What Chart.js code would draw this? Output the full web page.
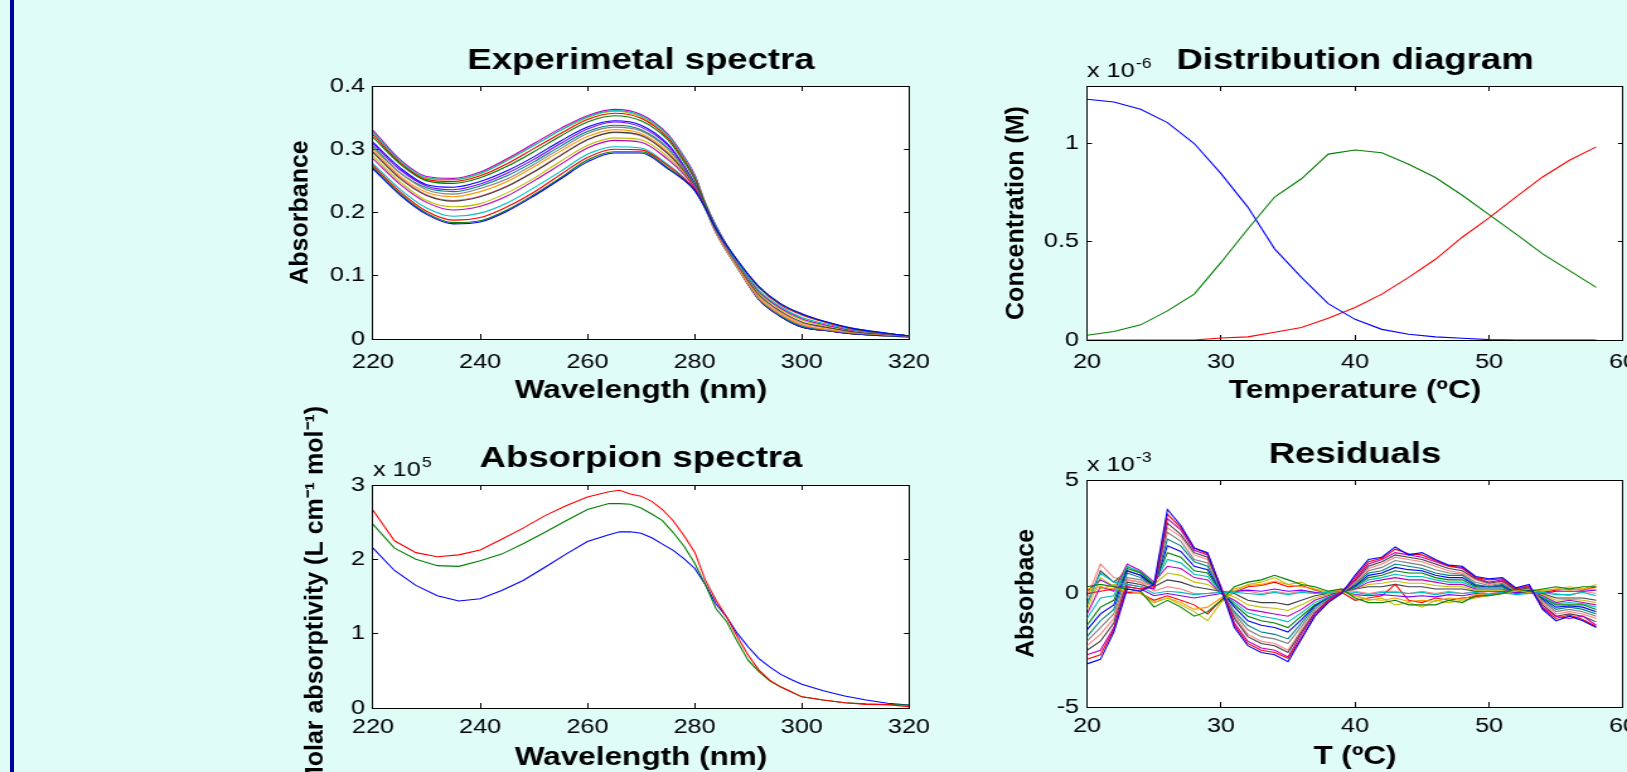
<!DOCTYPE html>
<html>
<head>
<meta charset="utf-8">
<script src="https://cdn.jsdelivr.net/npm/chart.js@4.4.1/dist/chart.umd.min.js"></script>
<style>
  html, body { margin: 0; padding: 0; }
  body { width: 1627px; height: 772px; background: #dffcf7; position: relative; overflow: hidden; }
  #edge { position: absolute; left: 10px; top: 0; width: 4px; height: 772px; background: #0000a0; }
  canvas { position: absolute; left: 0; top: 0; }
</style>
</head>
<body>
<div id="edge"></div>
<canvas id="expChart"></canvas>
<canvas id="distChart"></canvas>
<canvas id="absChart"></canvas>
<canvas id="resChart"></canvas>
<script>
// ---- Experimental spectra (absorbance), one array per temperature ----
const specWavelengths = [220,225,230,235,240,245,250,255,260,265,270,275,278,280,282,284,288,292,296,300,305,310,320];
const spec20 = [0.269,0.228,0.197,0.182,0.185,0.202,0.226,0.253,0.280,0.294,0.294,0.269,0.251,0.235,0.207,0.174,0.124,0.083,0.056,0.040,0.026,0.016,0.005];
const spec23 = [0.271,0.230,0.199,0.184,0.187,0.204,0.228,0.255,0.283,0.296,0.296,0.271,0.252,0.235,0.208,0.175,0.124,0.082,0.056,0.039,0.026,0.016,0.005];
const spec26 = [0.274,0.233,0.202,0.188,0.192,0.209,0.232,0.260,0.287,0.300,0.299,0.274,0.254,0.237,0.208,0.174,0.124,0.081,0.054,0.038,0.025,0.015,0.005];
const spec29 = [0.277,0.237,0.207,0.194,0.199,0.215,0.239,0.265,0.292,0.304,0.302,0.276,0.255,0.236,0.206,0.172,0.121,0.077,0.051,0.034,0.023,0.014,0.005];
const spec31 = [0.285,0.245,0.216,0.204,0.210,0.226,0.250,0.276,0.302,0.314,0.311,0.284,0.260,0.239,0.208,0.172,0.120,0.075,0.049,0.032,0.021,0.013,0.005];
const spec32 = [0.289,0.249,0.219,0.209,0.214,0.231,0.254,0.281,0.306,0.318,0.315,0.288,0.262,0.240,0.209,0.172,0.119,0.073,0.047,0.030,0.020,0.013,0.005];
const spec34 = [0.295,0.254,0.227,0.218,0.225,0.241,0.264,0.290,0.315,0.327,0.322,0.293,0.266,0.242,0.208,0.171,0.117,0.070,0.044,0.027,0.018,0.011,0.005];
const spec35 = [0.295,0.256,0.228,0.219,0.226,0.242,0.265,0.291,0.315,0.326,0.321,0.293,0.264,0.240,0.206,0.169,0.115,0.068,0.042,0.025,0.017,0.011,0.005];
const spec37 = [0.299,0.258,0.232,0.225,0.233,0.249,0.272,0.297,0.320,0.331,0.325,0.296,0.266,0.240,0.206,0.168,0.113,0.065,0.040,0.023,0.015,0.010,0.005];
const spec38 = [0.302,0.263,0.236,0.229,0.238,0.253,0.276,0.301,0.325,0.335,0.329,0.300,0.269,0.242,0.206,0.168,0.113,0.064,0.038,0.022,0.014,0.009,0.005];
const spec40 = [0.305,0.263,0.239,0.233,0.242,0.258,0.280,0.305,0.328,0.338,0.331,0.302,0.270,0.243,0.206,0.167,0.112,0.063,0.037,0.020,0.014,0.009,0.005];
const spec41 = [0.309,0.268,0.242,0.236,0.245,0.262,0.284,0.309,0.332,0.343,0.335,0.306,0.273,0.245,0.208,0.169,0.113,0.063,0.037,0.020,0.013,0.009,0.005];
const spec44 = [0.311,0.271,0.244,0.240,0.249,0.266,0.288,0.313,0.335,0.345,0.338,0.308,0.274,0.246,0.208,0.169,0.113,0.062,0.036,0.019,0.013,0.008,0.004];
const spec47 = [0.319,0.277,0.250,0.246,0.255,0.273,0.296,0.321,0.343,0.353,0.345,0.315,0.280,0.252,0.212,0.173,0.115,0.063,0.036,0.019,0.013,0.008,0.004];
const spec50 = [0.323,0.279,0.252,0.249,0.258,0.277,0.301,0.325,0.347,0.357,0.349,0.318,0.283,0.255,0.213,0.175,0.116,0.063,0.036,0.019,0.013,0.008,0.004];
const spec53 = [0.327,0.282,0.255,0.252,0.262,0.282,0.306,0.330,0.351,0.361,0.353,0.322,0.287,0.258,0.215,0.178,0.118,0.064,0.036,0.019,0.013,0.008,0.003];
const spec56 = [0.330,0.284,0.257,0.254,0.264,0.285,0.309,0.333,0.353,0.363,0.355,0.324,0.289,0.260,0.215,0.179,0.119,0.064,0.036,0.019,0.013,0.008,0.003];
const spec58 = [0.327,0.281,0.254,0.252,0.261,0.283,0.306,0.330,0.350,0.360,0.351,0.321,0.286,0.258,0.213,0.178,0.118,0.063,0.036,0.019,0.013,0.008,0.003];
const spectra = [spec20,spec23,spec26,spec29,spec31,spec32,spec34,spec35,spec37,spec38,spec40,spec41,spec44,spec47,spec50,spec53,spec56,spec58];

// ---- Distribution diagram (x 1e-6 M) ----
const temperatures = [20,22,24,26,28,30,32,34,36,38,40,42,44,46,48,50,52,54,56,58];
const concBlue  = [1.223,1.209,1.172,1.104,0.998,0.845,0.675,0.463,0.318,0.185,0.105,0.054,0.029,0.016,0.009,0.002,0,0,0,0];
const concGreen = [0.024,0.043,0.077,0.148,0.233,0.394,0.564,0.726,0.819,0.944,0.965,0.951,0.893,0.825,0.735,0.637,0.539,0.437,0.352,0.267];
const concRed   = [0,0,0,0,0,0.010,0.016,0.039,0.063,0.110,0.165,0.233,0.318,0.410,0.522,0.620,0.726,0.828,0.913,0.981];

// ---- Absorption spectra (x 1e5 L cm-1 mol-1) ----
const absWavelengths = [220,224,228,232,236,240,244,248,252,256,260,264,266,268,270,272,274,276,278,280,282,284,286,288,290,292,294,296,298,300,304,308,312,316,320];
const epsRed   = [2.66,2.25,2.09,2.035,2.06,2.125,2.27,2.42,2.585,2.72,2.84,2.91,2.93,2.88,2.85,2.78,2.67,2.52,2.32,2.10,1.72,1.45,1.22,0.955,0.71,0.51,0.375,0.285,0.218,0.15,0.107,0.071,0.049,0.045,0.018];
const epsGreen = [2.47,2.15,2.0,1.915,1.905,1.98,2.07,2.21,2.36,2.52,2.67,2.75,2.75,2.74,2.69,2.61,2.52,2.36,2.18,1.95,1.66,1.335,1.16,0.89,0.64,0.49,0.365,0.285,0.218,0.15,0.107,0.071,0.055,0.045,0.04];
const epsBlue  = [2.15,1.85,1.65,1.51,1.44,1.47,1.58,1.715,1.89,2.07,2.24,2.33,2.37,2.37,2.35,2.29,2.205,2.12,2.01,1.88,1.66,1.40,1.22,1.0,0.82,0.665,0.554,0.455,0.384,0.32,0.232,0.161,0.107,0.063,0.04];

// ---- Residuals (x 1e-3), temperatures 20..58 every 1 ºC ----
const resTemps = [20,21,22,23,24,25,26,27,28,29,30,31,32,33,34,35,36,37,38,39,40,41,42,43,44,45,46,47,48,49,50,51,52,53,54,55,56,57,58];
const resA1  = [-3.1,-2.9,-1.7,0.2,0.1,0.4,3.7,3.0,2.0,1.8,0.2,-1.5,-2.3,-2.6,-2.7,-3.0,-2.0,-1.0,-0.4,0.0,0.8,1.5,1.6,2.05,1.7,1.8,1.5,1.25,1.2,0.75,0.65,0.7,0.25,0.4,-0.7,-1.2,-1.0,-1.2,-1.5];
const resA1b = [-2.9,-2.7,-1.6,0.3,0.2,0.3,3.5,2.9,2.0,1.75,0.25,-1.4,-2.2,-2.5,-2.6,-2.85,-1.95,-1.0,-0.35,0.05,0.7,1.4,1.55,1.95,1.75,1.7,1.45,1.2,1.15,0.7,0.6,0.65,0.2,0.35,-0.65,-1.1,-0.95,-1.15,-1.45];
const resA2  = [-2.7,-2.5,-1.5,0.4,0.3,0.2,3.3,2.8,1.9,1.7,0.3,-1.3,-2.1,-2.4,-2.5,-2.8,-1.8,-0.9,-0.3,0.1,0.6,1.3,1.5,1.8,1.7,1.6,1.4,1.2,1.1,0.7,0.5,0.6,0.2,0.3,-0.6,-1.0,-1.1,-1.0,-1.4];
const resA2b = [-2.5,-2.1,-1.3,0.5,0.4,0.2,3.1,2.6,1.8,1.6,0.2,-1.1,-1.9,-2.2,-2.3,-2.6,-1.7,-0.85,-0.3,0.05,0.55,1.2,1.4,1.7,1.6,1.5,1.3,1.1,1.0,0.65,0.45,0.55,0.15,0.25,-0.5,-1.0,-0.9,-1.0,-1.25];
const resA3  = [-2.3,-1.8,-1.1,0.6,0.5,0.3,2.9,2.5,1.7,1.5,0.2,-1.0,-1.8,-2.1,-2.2,-2.5,-1.6,-0.8,-0.3,0.0,0.5,1.1,1.3,1.6,1.5,1.4,1.2,1.0,0.9,0.6,0.4,0.5,0.1,0.3,-0.4,-0.9,-0.8,-0.9,-1.1];
const resA3b = [-2.1,-1.5,-0.9,0.7,0.6,0.3,2.7,2.3,1.5,1.35,0.15,-0.9,-1.6,-1.9,-2.0,-2.2,-1.45,-0.7,-0.25,0.05,0.45,1.0,1.15,1.45,1.35,1.25,1.05,0.9,0.85,0.5,0.35,0.45,0.1,0.25,-0.35,-0.8,-0.7,-0.8,-1.0];
const resA4  = [-1.9,-1.2,-0.7,0.9,0.7,0.3,2.4,2.1,1.4,1.2,0.1,-0.8,-1.4,-1.7,-1.8,-2.0,-1.3,-0.6,-0.2,0.1,0.4,0.9,1.0,1.3,1.2,1.1,0.9,0.8,0.8,0.4,0.3,0.4,0.1,0.2,-0.3,-0.7,-0.6,-0.7,-0.9];
const resA4b = [-1.6,-0.9,-0.5,1.0,0.8,0.35,2.1,1.85,1.2,1.05,0.1,-0.6,-1.2,-1.4,-1.5,-1.7,-1.15,-0.55,-0.2,0.05,0.35,0.8,0.9,1.15,1.05,1.0,0.8,0.7,0.7,0.35,0.3,0.35,0.05,0.15,-0.25,-0.6,-0.55,-0.6,-0.8];
const resA5  = [-1.4,-0.6,-0.3,1.1,0.9,0.4,1.8,1.6,1.0,0.9,0.1,-0.5,-1.0,-1.2,-1.3,-1.5,-1.0,-0.5,-0.2,0.0,0.3,0.7,0.8,1.0,0.9,0.9,0.7,0.6,0.6,0.3,0.3,0.3,0.0,0.1,-0.2,-0.5,-0.5,-0.5,-0.7];
const resA5b = [-1.1,-0.2,-0.1,1.2,0.95,0.45,1.5,1.35,0.85,0.75,0.05,-0.4,-0.85,-1.0,-1.1,-1.25,-0.85,-0.4,-0.15,0.05,0.25,0.6,0.7,0.85,0.75,0.75,0.6,0.5,0.5,0.25,0.25,0.25,0.0,0.1,-0.15,-0.45,-0.4,-0.45,-0.6];
const resA6  = [-0.9,0.3,0.1,1.3,1.0,0.5,1.2,1.1,0.7,0.6,0.0,-0.3,-0.7,-0.8,-0.9,-1.0,-0.7,-0.3,-0.1,0.1,0.2,0.5,0.6,0.7,0.6,0.6,0.5,0.4,0.4,0.2,0.2,0.2,0.0,0.1,-0.1,-0.4,-0.3,-0.4,-0.5];
const resA6b = [-0.7,0.7,0.3,1.2,0.9,0.4,0.9,0.8,0.5,0.4,0.05,-0.15,-0.5,-0.6,-0.65,-0.75,-0.5,-0.2,-0.05,0.1,0.2,0.4,0.45,0.55,0.45,0.45,0.35,0.3,0.3,0.15,0.15,0.15,0.05,0.05,-0.05,-0.3,-0.25,-0.3,-0.4];
const resA7  = [-0.5,1.0,0.5,1.0,0.8,0.3,0.6,0.5,0.3,0.2,0.1,0.0,-0.3,-0.4,-0.4,-0.5,-0.3,-0.1,0.0,0.1,0.2,0.3,0.3,0.4,0.3,0.3,0.2,0.2,0.2,0.1,0.1,0.1,0.1,0.0,0.0,-0.2,-0.2,-0.2,-0.3];
const resA8  = [-0.2,1.3,0.7,0.6,0.5,0.1,0.3,0.2,0.0,0.0,0.1,0.1,0.1,0.0,0.1,0.0,0.1,0.0,0.1,0.2,0.1,0.0,0.1,0.1,0.0,0.1,0.0,0.1,0.0,0.1,0.0,0.1,0.0,0.0,0.1,0.0,-0.1,0.1,0.0];
const resZ1  = [-0.4,0.9,0.5,0.4,0.3,0.0,0.1,0.05,-0.05,0.0,0.05,0.05,0.0,-0.05,0.05,-0.05,0.05,0.0,0.05,0.1,0.05,-0.05,0.05,0.05,0.0,0.05,-0.05,0.05,0.0,0.05,-0.05,0.05,-0.05,0.0,0.05,-0.05,-0.05,0.05,-0.1];
const resZ2  = [0.1,0.6,0.3,0.3,0.2,-0.1,0.0,-0.1,-0.2,-0.1,0.0,0.1,0.15,0.1,0.2,0.1,0.15,0.05,0.0,0.1,-0.05,-0.1,-0.05,-0.1,-0.15,-0.1,-0.15,-0.05,-0.1,0.0,-0.05,0.05,0.05,0.1,0.0,0.1,0.1,0.1,0.15];
const resB1  = [0.3,0.4,0.3,0.2,0.1,-0.6,-0.3,-0.6,-1.0,-0.8,-0.3,0.3,0.5,0.6,0.8,0.6,0.4,0.3,0.1,0.2,-0.2,-0.4,-0.4,-0.3,-0.5,-0.5,-0.5,-0.3,-0.4,-0.1,-0.1,0.0,0.2,0.1,0.2,0.3,0.2,0.3,0.3];
const resB2  = [0.1,0.2,0.4,0.0,0.0,-0.4,-0.2,-0.5,-0.8,-1.2,-0.4,0.1,0.4,0.5,0.7,0.4,0.5,0.2,0.0,0.1,-0.1,-0.3,-0.2,-0.5,-0.4,-0.6,-0.3,-0.4,-0.3,-0.2,-0.1,0.0,0.1,0.2,0.1,0.2,0.3,0.2,0.4];
const resB3  = [0.2,0.3,0.2,0.1,0.05,-0.4,-0.2,-0.4,-0.7,-0.6,-0.2,0.2,0.35,0.4,0.55,0.4,0.3,0.2,0.05,0.15,-0.1,-0.25,-0.3,-0.2,-0.35,-0.3,-0.35,-0.2,-0.25,-0.05,-0.05,0.0,0.15,0.05,0.15,0.2,0.15,0.2,0.2];
const resB4  = [0.0,0.1,0.2,0.05,0.0,-0.3,-0.1,-0.3,-0.5,-0.9,-0.3,0.05,0.3,0.35,0.5,0.3,0.35,0.15,0.0,0.05,-0.3,-0.2,-0.1,0.4,-0.3,-0.4,-0.2,-0.3,-0.2,-0.15,-0.05,0.0,0.05,0.15,0.05,0.15,0.2,0.15,0.3];
const residuals = [resA1,resB1,resA1b,resZ1,resA2,resB2,resA2b,resA3,resB3,resA3b,resA4,resZ2,resA4b,resA5,resB4,resA5b,resA6,resA6b,resA7,resA8];

const palette = ['#0000ff','#008000','#ff0000','#00bfbf','#bf00bf','#bfbf00','#404040','#ff7f7f','#ff9900','#808080','#008080','#8000ff'];

// page geometry; horizontal text in the original is drawn wide, so each canvas is stretched sideways
const PAGE_W = 1627, PAGE_H = 772;
const CW = Math.round(PAGE_W / 1.26);
const sx = PAGE_W / CW;
const FONT = '"Liberation Sans", Arial, sans-serif';
const TICK_SIZE = 20, AXIS_SIZE = 25, TITLE_SIZE = 29;

Chart.defaults.font.family = FONT;
Chart.defaults.color = '#000';

const toPoints = (xs, ys) => xs.map((x, i) => ({x, y: ys[i]}));
const tickText = v => String(Math.round(v * 1000) / 1000);

// white plot box, rotated y label (undistorted) and the "x 10^n" multiplier, MATLAB style
const matlabFrame = {
  id: 'matlabFrame',
  beforeDraw(chart) {
    const {ctx, chartArea: a} = chart;
    ctx.save();
    ctx.fillStyle = '#ffffff';
    ctx.fillRect(a.left, a.top, a.right - a.left, a.bottom - a.top);
    ctx.restore();
  },
  afterDraw(chart, args, opts) {
    const {ctx, chartArea: a} = chart;
    ctx.save();
    ctx.fillStyle = '#000';
    if (opts.yTitle) {
      ctx.save();
      ctx.translate(opts.yTitleX / sx, (a.top + a.bottom) / 2);
      ctx.scale(1 / sx, 1);
      ctx.rotate(-Math.PI / 2);
      ctx.font = 'bold ' + AXIS_SIZE + 'px ' + FONT;
      ctx.textAlign = 'center';
      ctx.textBaseline = 'middle';
      ctx.fillText(opts.yTitle, 0, 0);
      ctx.restore();
    }
    if (opts.power) {
      ctx.textBaseline = 'alphabetic';
      ctx.font = TICK_SIZE + 'px ' + FONT;
      const y = a.top - 9;
      ctx.fillText('x 10', a.left, y);
      const w = ctx.measureText('x 10').width;
      ctx.font = '14px ' + FONT;
      ctx.fillText(opts.power, a.left + w + 1, y - 9);
    }
    ctx.restore();
  }
};

function drawPanel(id, area, cfg) {
  const canvas = document.getElementById(id);
  canvas.width = CW;
  canvas.height = PAGE_H;
  canvas.style.width = PAGE_W + 'px';
  canvas.style.height = PAGE_H + 'px';

  const tickIn = 5, gap = 8;
  const grid = {drawOnChartArea: false, color: '#000', lineWidth: 1};
  const border = {color: '#000', width: 1};
  const xRange = {type: 'linear', min: cfg.xMin, max: cfg.xMax};
  const yRange = {type: 'linear', min: cfg.yMin, max: cfg.yMax};
  const xTicks = {stepSize: cfg.xStep, autoSkip: false, maxRotation: 0, includeBounds: false, font: {size: TICK_SIZE}, color: '#000', callback: tickText};
  const yTicks = {stepSize: cfg.yStep, autoSkip: false, includeBounds: false, font: {size: TICK_SIZE}, color: '#000', callback: tickText};
  const noPad = s => { s.paddingLeft = 0; s.paddingRight = 0; s.paddingTop = 0; s.paddingBottom = 0; };

  return new Chart(canvas, {
    type: 'line',
    data: {datasets: cfg.datasets},
    plugins: [matlabFrame],
    options: {
      responsive: false,
      animation: false,
      devicePixelRatio: 1,
      events: [],
      layout: {autoPadding: false, padding: {left: 0, top: 0, bottom: 0, right: CW - area.r / sx}},
      elements: {point: {radius: 0}, line: {borderWidth: 1.1}},
      plugins: {
        legend: {display: false},
        tooltip: {enabled: false},
        title: {
          display: true, text: cfg.title, fullSize: false, color: '#000',
          font: {size: TITLE_SIZE, weight: 'bold'},
          padding: {top: cfg.titleY - 0.6 * TITLE_SIZE, bottom: area.t - cfg.titleY - 0.6 * TITLE_SIZE}
        },
        matlabFrame: {power: cfg.power, yTitle: cfg.yTitle, yTitleX: cfg.yTitleX}
      },
      scales: {
        x: {
          ...xRange, position: 'bottom',
          grid: {...grid, tickLength: -tickIn}, border,
          ticks: {...xTicks, padding: cfg.xLabelY - area.b + tickIn - 0.6 * TICK_SIZE},
          title: {display: true, text: cfg.xTitle, color: '#000', font: {size: AXIS_SIZE, weight: 'bold'},
                  padding: {top: 0, bottom: PAGE_H - cfg.xTitleY - 0.6 * AXIS_SIZE}},
          afterFit: s => { noPad(s); s.height = PAGE_H - area.b; }
        },
        xTop: {
          ...xRange, position: 'top',
          grid: {...grid, tickLength: -tickIn}, border,
          ticks: {...xTicks, display: false},
          afterFit: s => { noPad(s); s.height = 0; }
        },
        y: {
          ...yRange, position: 'left',
          grid: {...grid, tickLength: -tickIn / sx}, border,
          ticks: {...yTicks, padding: (tickIn + gap) / sx},
          title: {display: false},
          afterFit: s => { noPad(s); s.width = area.l / sx; }
        },
        yRight: {
          ...yRange, position: 'right',
          grid: {...grid, tickLength: -tickIn / sx}, border,
          ticks: {...yTicks, display: false},
          afterFit: s => { noPad(s); s.width = 0; }
        }
      }
    }
  });
}

drawPanel('expChart', {l: 373, t: 86, r: 909, b: 339}, {
  title: 'Experimetal spectra', titleY: 61,
  xTitle: 'Wavelength (nm)', xTitleY: 391, xLabelY: 362,
  yTitle: 'Absorbance', yTitleX: 300,
  xMin: 220, xMax: 320, xStep: 20, yMin: 0, yMax: 0.4, yStep: 0.1,
  datasets: spectra.map((s, i) => ({
    data: toPoints(specWavelengths, s), borderColor: palette[i % palette.length],
    xAxisID: 'x', yAxisID: 'y', cubicInterpolationMode: 'monotone'
  }))
});

drawPanel('distChart', {l: 1087, t: 86, r: 1623, b: 340}, {
  title: 'Distribution diagram', titleY: 61, power: '-6',
  xTitle: 'Temperature (ºC)', xTitleY: 391, xLabelY: 362,
  yTitle: 'Concentration (M)', yTitleX: 1017,
  xMin: 20, xMax: 60, xStep: 10, yMin: 0, yMax: 1.29, yStep: 0.5,
  datasets: [
    {data: toPoints(temperatures, concBlue), borderColor: '#0000ff', xAxisID: 'x', yAxisID: 'y'},
    {data: toPoints(temperatures, concGreen), borderColor: '#008000', xAxisID: 'x', yAxisID: 'y'},
    {data: toPoints(temperatures, concRed), borderColor: '#ff0000', xAxisID: 'x', yAxisID: 'y'}
  ]
});

drawPanel('absChart', {l: 373, t: 485, r: 909, b: 708}, {
  title: 'Absorpion spectra', titleY: 459, power: '5',
  xTitle: 'Wavelength (nm)', xTitleY: 758, xLabelY: 727,
  yTitle: 'Molar absorptivity (L cm⁻¹ mol⁻¹)', yTitleX: 316,
  xMin: 220, xMax: 320, xStep: 20, yMin: 0, yMax: 3, yStep: 1,
  datasets: [
    {data: toPoints(absWavelengths, epsRed), borderColor: '#ff0000', xAxisID: 'x', yAxisID: 'y'},
    {data: toPoints(absWavelengths, epsGreen), borderColor: '#008000', xAxisID: 'x', yAxisID: 'y'},
    {data: toPoints(absWavelengths, epsBlue), borderColor: '#0000ff', xAxisID: 'x', yAxisID: 'y'}
  ]
});

drawPanel('resChart', {l: 1087, t: 480, r: 1623, b: 707}, {
  title: 'Residuals', titleY: 455, power: '-3',
  xTitle: 'T (ºC)', xTitleY: 757, xLabelY: 726,
  yTitle: 'Absorbace', yTitleX: 1027,
  xMin: 20, xMax: 60, xStep: 10, yMin: -5, yMax: 5, yStep: 5,
  datasets: residuals.map((r, i) => ({
    data: toPoints(resTemps, r), borderColor: palette[i % palette.length],
    xAxisID: 'x', yAxisID: 'y'
  }))
});
</script>
</body>
</html>
